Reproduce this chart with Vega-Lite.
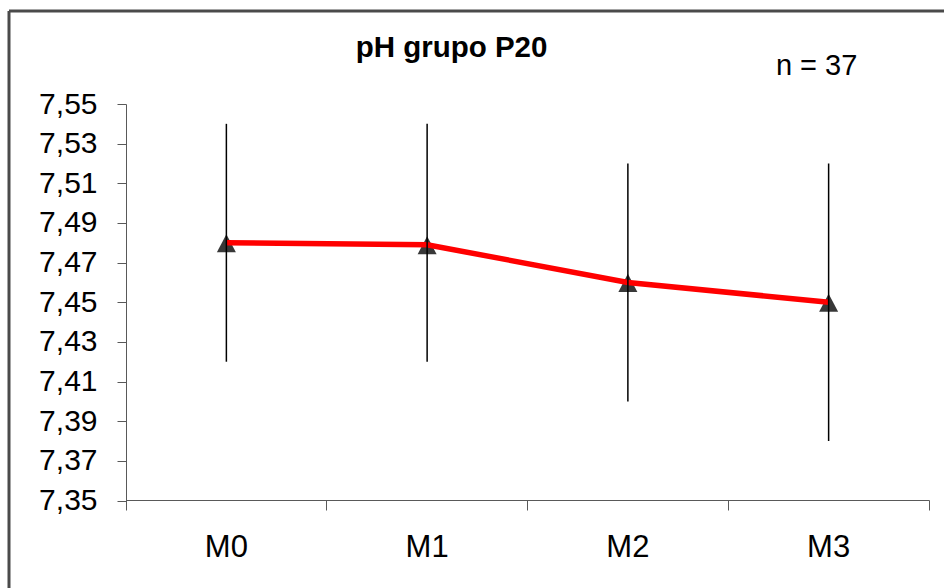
{
  "$schema": "https://vega.github.io/schema/vega-lite/v6.json",
  "width": 935,
  "height": 577,
  "autosize": "none",
  "padding": {"left": 9, "top": 11, "right": 0, "bottom": 0},
  "background": "white",
  "config": {
    "view": {"stroke": "#4a4a4a", "strokeWidth": 3, "strokeDash": [935, 1512, 577, 0]},
    "font": "Liberation Sans"
  },
  "title": {
    "text": "pH grupo P20",
    "font": "Liberation Sans",
    "fontSize": 29.5,
    "fontWeight": "bold",
    "color": "black",
    "anchor": "middle",
    "frame": "group",
    "offset": -52,
    "dx": -25
  },
  "data": {
    "values": [
      {"moment": "M0", "mean": 7.48, "low": 7.42, "high": 7.54},
      {"moment": "M1", "mean": 7.479, "low": 7.42, "high": 7.54},
      {"moment": "M2", "mean": 7.46, "low": 7.40, "high": 7.52},
      {"moment": "M3", "mean": 7.45, "low": 7.38, "high": 7.52}
    ]
  },
  "encoding": {
    "x": {
      "field": "moment",
      "type": "nominal",
      "scale": {"range": [117, 920], "paddingInner": 0, "paddingOuter": 0},
      "axis": {
        "title": null,
        "orient": "bottom",
        "offset": -88,
        "bandPosition": 1,
        "tickExtra": true,
        "tickSize": 10,
        "tickColor": "#595959",
        "domainColor": "#595959",
        "labelFontSize": 31,
        "labelColor": "black",
        "labelPadding": 22,
        "labelAngle": 0,
        "grid": false
      }
    }
  },
  "layer": [
    {
      "mark": {"type": "point", "shape": "M-1,1L0,-0.9L1,1Z", "filled": true, "size": 361, "color": "#383838", "opacity": 1},
      "encoding": {
        "y": {
          "field": "mean",
          "type": "quantitative",
          "scale": {"domain": [7.35, 7.55], "range": [489.5, 93], "nice": false, "zero": false},
          "axis": {
            "title": null,
            "offset": -117,
            "values": [7.35, 7.37, 7.39, 7.41, 7.43, 7.45, 7.47, 7.49, 7.51, 7.53, 7.55],
            "labelExpr": "replace(format(datum.value, '.2f'), '.', ',')",
            "tickSize": 9,
            "tickColor": "#595959",
            "domainColor": "#595959",
            "labelFontSize": 30,
            "labelColor": "black",
            "labelPadding": 20,
            "grid": false
          }
        }
      }
    },
    {
      "mark": {"type": "line", "color": "#ff0000", "strokeWidth": 5.5},
      "encoding": {"y": {"field": "mean", "type": "quantitative"}}
    },
    {
      "mark": {"type": "rule", "color": "black", "strokeWidth": 1.5},
      "encoding": {
        "y": {"field": "low", "type": "quantitative"},
        "y2": {"field": "high"}
      }
    },
    {
      "data": {"values": [{"note": "n = 37"}]},
      "mark": {"type": "text", "fontSize": 29, "dx": -12, "dy": -29, "baseline": "alphabetic", "align": "center", "color": "black"},
      "encoding": {
        "x": {"datum": "M3"},
        "y": {"datum": 7.55},
        "text": {"field": "note"}
      }
    }
  ]
}
